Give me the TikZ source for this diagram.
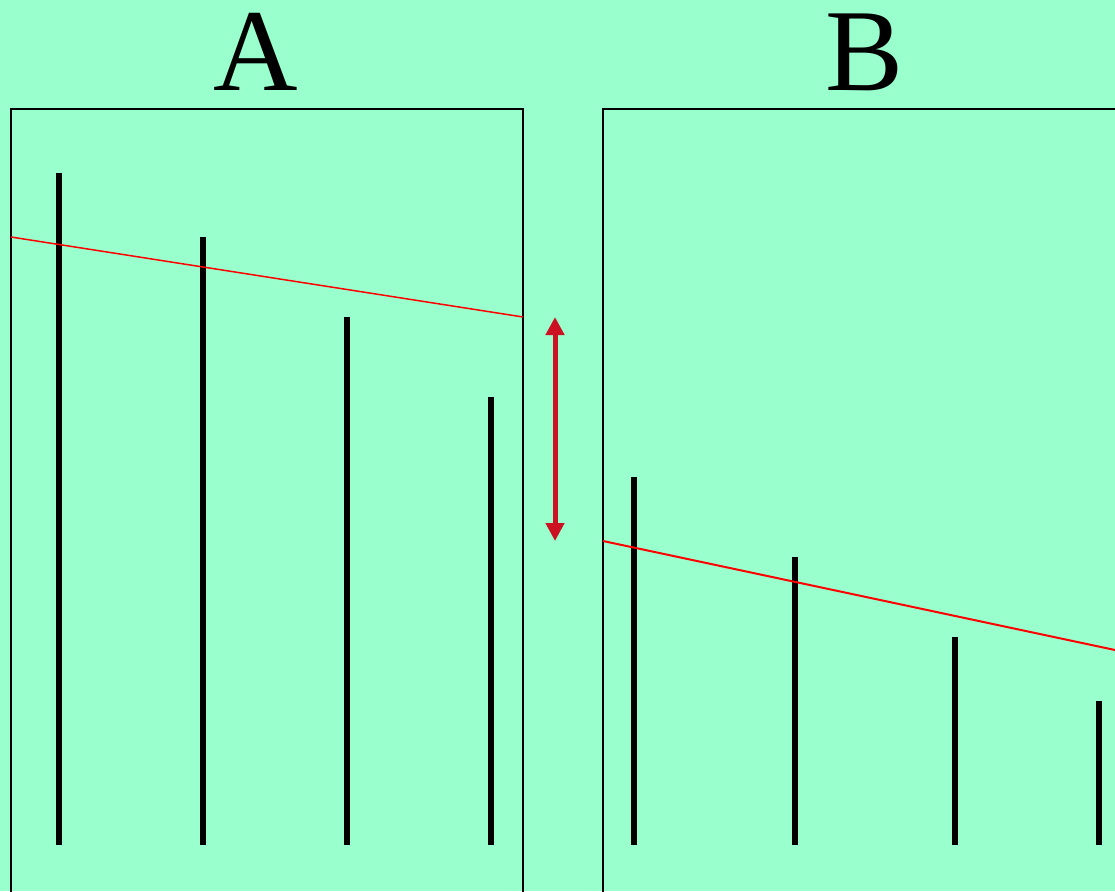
\documentclass[tikz,border=0pt]{standalone}
\usepackage{fontspec}
\setmainfont{Liberation Serif}
\usetikzlibrary{arrows.meta}
\definecolor{bg}{RGB}{153,255,204}
\definecolor{arrowred}{RGB}{204,17,34}
\begin{document}
\begin{tikzpicture}[x=1pt,y=-1pt,
  frame/.style={draw=black,line width=2pt},
  bar/.style={draw=black,line width=6pt},
  redline/.style={draw=red,line width=1.5pt},
  dbl/.style={draw=arrowred,line width=5pt,{Triangle[width=18pt,length=18pt]}-{Triangle[width=18pt,length=18pt]}},
  title/.style={font=\fontsize{117}{117}\selectfont,anchor=base,inner sep=0pt}]
\fill[bg] (0,0) rectangle (1115,891);
\useasboundingbox (0,0) rectangle (1115,891);
% frames
\draw[frame] (11,900) -- (11,109) -- (523,109) -- (523,900);
\draw[frame] (603,900) -- (603,109) -- (1125,109);
% titles
\node[title] (tA) at (256,90) {A};
\node[title] (tB) at (865,90) {B};
% bars
\foreach \n/\x/\t in {a1/59/173,a2/203/237,a3/347/317,a4/491/397,b1/634/477,b2/795/557,b3/955/637,b4/1099/701}{
  \coordinate (\n top) at (\x,\t);
  \coordinate (\n bot) at (\x,845);
  \draw[bar] (\n top) -- (\n bot);
}
% red lines
\coordinate (rA1) at (11,237);
\coordinate (rA2) at (523,317);
\coordinate (rB1) at (603,541);
\coordinate (rB2) at (1115,650);
\draw[redline] (rA1) -- (rA2);
\draw[redline,line width=2pt] (rB1) -- (rB2);
% arrow
\coordinate (arT) at (555,317);
\coordinate (arB) at (555,541);
\draw[dbl] (arT) -- (arB);
\end{tikzpicture}
\end{document}
